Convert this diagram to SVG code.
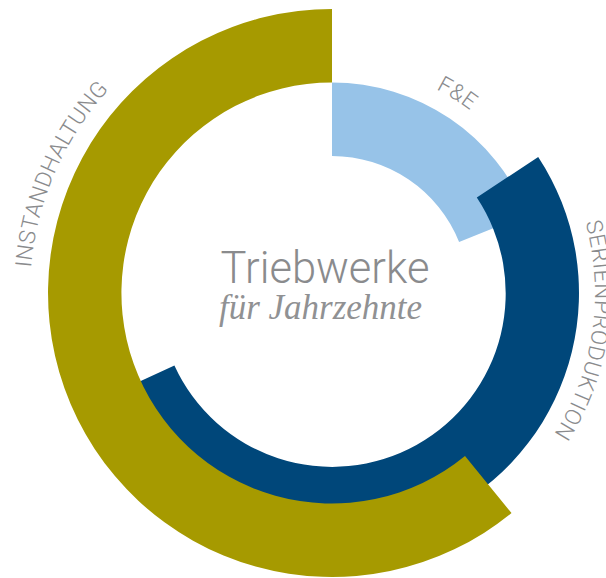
<svg xmlns="http://www.w3.org/2000/svg" width="606" height="578" viewBox="0 0 606 578">
  <style>
    .lbl { font-family: Roboto, "Liberation Sans", sans-serif; font-weight: 300; font-size: 22.5px; fill: #8a8b8d; letter-spacing: 0.5px; }
    .title { font-family: Roboto, "Liberation Sans", sans-serif; font-weight: 300; font-size: 43.5px; fill: #8a8b8d; }
    .sub { font-family: "Liberation Serif", serif; font-style: italic; font-size: 35px; fill: #909193; }
  </style>
  <defs>
    <path id="pFE" d="M436 89 A229 229 0 0 1 530.3 178.5"/>
    <path id="pSP" d="M585.3 222.3 A263 263 0 0 1 501.1 494.5"/>
    <path id="pIH" d="M31.1 267.7 A302 302 0 0 1 181 31.5"/>
  </defs>
  <g id="fe">
    <path d="M332 82.5 A210.5 210.5 0 0 1 527.3 214.5 L459.1 241.9 A137 137 0 0 0 332 156 Z" fill="#97c3e8"/>
    <text class="lbl"><textPath href="#pFE">F&amp;E</textPath></text>
  </g>
  <g id="serienproduktion">
    <path d="M538.2 157 A247 247 0 1 1 107.6 396.2 L174.4 365.5 A173.5 173.5 0 1 0 476.8 197.5 Z" fill="#00477a"/>
    <text class="lbl"><textPath href="#pSP">SERIENPRODUKTION</textPath></text>
  </g>
  <g id="instandhaltung">
    <path d="M511.5 513.1 A284 284 0 1 1 332 9 L332 82.5 A210.5 210.5 0 1 0 465 456.1 Z" fill="#a69a00"/>
    <text class="lbl"><textPath href="#pIH">INSTANDHALTUNG</textPath></text>
  </g>
  <g id="center">
    <text class="title" x="325" y="283" text-anchor="middle">Triebwerke</text>
    <text class="sub" x="320.5" y="319" text-anchor="middle">für Jahrzehnte</text>
  </g>
  <g id="connectors"/>
</svg>
